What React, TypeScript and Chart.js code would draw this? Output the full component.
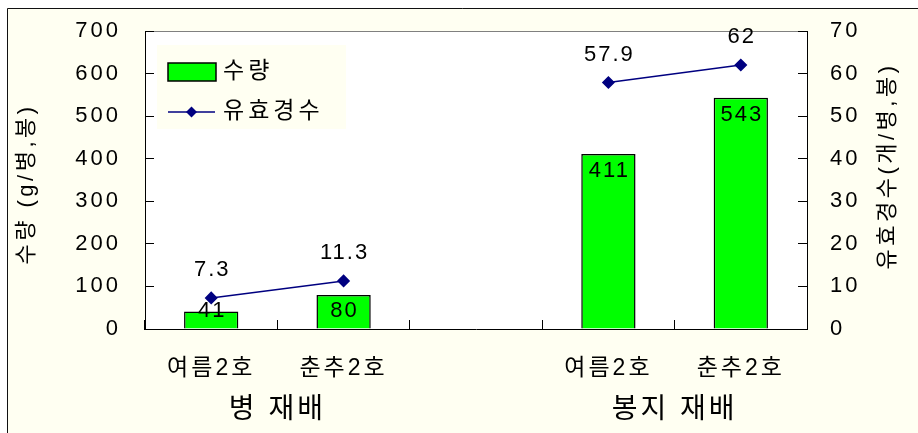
import React, { useEffect, useRef } from 'react';
import { Chart, registerables } from 'chart.js';

Chart.register(...registerables);

// ---- data ----
const categories = ['여름2호', '춘추2호', '', '여름2호', '춘추2호'];
const groupLabels = ['병 재배', '봉지 재배'];
const groupCenters = [0.5, 3.5];
const yieldValues = [41, 80, null, 411, 543];
const earValues = [7.3, 11.3, null, 57.9, 62];
const leftAxisTitle = '수량 (g/병,봉)';
const rightAxisTitle = '유효경수(개/병,봉)';
const legendLabels = ['수량', '유효경수'];

const CREAM = '#FFFFF2';
const GREEN = '#00FF00';
const NAVY = '#000080';
const FAMILY = '"Liberation Sans", "Noto Sans CJK KR", sans-serif';

const zeroPad = (s: any) => {
  s.paddingTop = 0;
  s.paddingBottom = 0;
  s.paddingLeft = 0;
  s.paddingRight = 0;
};

const decorPlugin = {
  id: 'decor',
  beforeDraw(chart: any) {
    const { ctx, width, height, chartArea: ca } = chart;
    ctx.save();
    ctx.fillStyle = '#ffffff';
    ctx.fillRect(0, 0, width, height);
    ctx.fillStyle = CREAM;
    ctx.fillRect(7, 8, width - 7, height - 8);
    ctx.strokeStyle = '#111';
    ctx.lineWidth = 1;
    ctx.beginPath();
    ctx.moveTo(7.5, height);
    ctx.lineTo(7.5, 8.5);
    ctx.lineTo(width, 8.5);
    ctx.stroke();
    ctx.fillStyle = '#ffffff';
    ctx.fillRect(ca.left, ca.top, ca.right - ca.left, ca.bottom - ca.top);
    ctx.strokeStyle = '#808080';
    ctx.beginPath();
    ctx.moveTo(ca.left, ca.top + 0.5);
    ctx.lineTo(ca.right, ca.top + 0.5);
    ctx.stroke();
    ctx.restore();
    ctx.letterSpacing = '3px';
  },
  afterDatasetsDraw(chart: any) {
    const { ctx } = chart;
    ctx.save();
    ctx.letterSpacing = '2px';
    ctx.font = `22px ${FAMILY}`;
    ctx.fillStyle = '#000';
    ctx.textAlign = 'center';
    ctx.textBaseline = 'middle';
    chart.data.datasets.forEach((ds: any, di: number) => {
      const meta = chart.getDatasetMeta(di);
      meta.data.forEach((el: any, i: number) => {
        const v = ds.data[i];
        if (v === null || v === undefined) return;
        let y: number;
        if (ds.type === 'line') {
          y = el.y - 28;
        } else {
          y = Math.min(el.y + 17, el.base - 18);
        }
        ctx.fillText(String(v), el.x + 1, y);
      });
    });
    ctx.restore();
  },
  afterDraw(chart: any) {
    const { ctx, chartArea: ca } = chart;
    ctx.save();
    ctx.fillStyle = '#000';
    ctx.font = `22px ${FAMILY}`;
    ctx.letterSpacing = '3.5px';
    ctx.textAlign = 'center';
    ctx.textBaseline = 'middle';
    // left axis title
    ctx.save();
    ctx.translate(27, (ca.top + ca.bottom) / 2 + 4);
    ctx.rotate(-Math.PI / 2);
    ctx.fillText(leftAxisTitle, 0, 0);
    ctx.restore();
    // right axis title
    ctx.save();
    ctx.translate(888, (ca.top + ca.bottom) / 2 - 14);
    ctx.rotate(-Math.PI / 2);
    ctx.fillText(rightAxisTitle, 0, 0);
    ctx.restore();

    // legend
    const lx = ca.left + 12;
    const ly = ca.top + 14;
    ctx.fillStyle = CREAM;
    ctx.fillRect(lx, ly, 189, 84);
    ctx.fillStyle = GREEN;
    ctx.fillRect(lx + 11, ly + 18, 48, 18);
    ctx.strokeStyle = '#000';
    ctx.lineWidth = 1.5;
    ctx.strokeRect(lx + 11, ly + 18, 48, 18);
    ctx.strokeStyle = NAVY;
    ctx.lineWidth = 1.5;
    ctx.beginPath();
    ctx.moveTo(lx + 11, ly + 67);
    ctx.lineTo(lx + 58, ly + 67);
    ctx.stroke();
    ctx.fillStyle = NAVY;
    const dx = lx + 34.5, dy = ly + 67, r = 5.5;
    ctx.beginPath();
    ctx.moveTo(dx, dy - r);
    ctx.lineTo(dx + r, dy);
    ctx.lineTo(dx, dy + r);
    ctx.lineTo(dx - r, dy);
    ctx.closePath();
    ctx.fill();
    ctx.fillStyle = '#000';
    ctx.textAlign = 'left';
    ctx.letterSpacing = '4px';
    ctx.font = `23px ${FAMILY}`;
    ctx.fillText(legendLabels[0], lx + 66, ly + 27);
    ctx.fillText(legendLabels[1], lx + 66, ly + 67);
    ctx.restore();
  },
};

export default function App() {
  const ref = useRef<HTMLCanvasElement | null>(null);
  useEffect(() => {
    document.body.style.margin = '0';
    document.body.style.overflow = 'hidden';
    const canvas = ref.current;
    if (!canvas) return;
    Chart.defaults.font.family = FAMILY;
    Chart.defaults.color = '#000';
    const chart = new Chart(canvas, {
      type: 'bar',
      data: {
        labels: categories,
        datasets: [
          {
            type: 'line',
            label: legendLabels[1],
            data: earValues,
            yAxisID: 'y1',
            xAxisID: 'x',
            borderColor: NAVY,
            backgroundColor: NAVY,
            borderWidth: 1.5,
            pointStyle: 'rectRot',
            pointRadius: 5.5,
            pointBackgroundColor: NAVY,
            pointBorderColor: NAVY,
            spanGaps: false,
            order: 0,
            clip: false,
          } as any,
          {
            type: 'bar',
            label: legendLabels[0],
            data: yieldValues,
            yAxisID: 'y',
            xAxisID: 'x',
            backgroundColor: GREEN,
            borderColor: '#000',
            borderWidth: 1.5,
            categoryPercentage: 1,
            barPercentage: 0.41,
            order: 1,
          } as any,
        ],
      },
      options: {
        responsive: false,
        animation: false,
        devicePixelRatio: 1,
        layout: { padding: { top: 31, left: 0, right: 0, bottom: 0 } },
        plugins: {
          legend: { display: false },
          tooltip: { enabled: false },
        },
        scales: {
          x: {
            type: 'category',
            position: 'bottom',
            weight: 0,
            offset: true,
            grid: {
              display: true,
              offset: true,
              drawOnChartArea: false,
              drawTicks: true,
              tickLength: -9,
              color: '#000',
              lineWidth: 1,
            },
            border: { display: true, color: '#000', width: 1 },
            ticks: {
              autoSkip: false,
              maxRotation: 0,
              minRotation: 0,
              padding: 35,
              font: { size: 23 },
              color: '#000',
            },
            afterFit: (s: any) => {
              s.height = 52;
              zeroPad(s);
            },
          },
          x2: {
            type: 'linear',
            position: 'bottom',
            weight: 1,
            offset: false,
            min: -0.5,
            max: 4.5,
            grid: { display: false, drawTicks: false, offset: false },
            border: { display: false },
            afterBuildTicks: (axis: any) => {
              axis.ticks = groupCenters.map((v) => ({ value: v }));
            },
            ticks: {
              autoSkip: false,
              maxRotation: 0,
              minRotation: 0,
              padding: 12,
              font: { size: 28 },
              color: '#000',
              callback: (value: any) => {
                const i = groupCenters.indexOf(Number(value));
                return i >= 0 ? groupLabels[i] : '';
              },
            },
            afterFit: (s: any) => {
              s.height = 52;
              zeroPad(s);
            },
          },
          y: {
            type: 'linear',
            position: 'left',
            min: 0,
            max: 700,
            grid: {
              display: true,
              drawOnChartArea: false,
              drawTicks: true,
              tickLength: -9,
              color: '#000',
            },
            border: { display: true, color: '#000', width: 1 },
            ticks: {
              stepSize: 100,
              padding: 33,
              font: { size: 22 },
              color: '#000',
            },
            afterFit: (s: any) => {
              s.width = 145;
              zeroPad(s);
            },
          },
          y1: {
            type: 'linear',
            position: 'right',
            min: 0,
            max: 70,
            grid: {
              display: true,
              drawOnChartArea: false,
              drawTicks: true,
              tickLength: -9,
              color: '#000',
            },
            border: { display: true, color: '#000', width: 1 },
            ticks: {
              stepSize: 10,
              padding: 32,
              font: { size: 22 },
              color: '#000',
            },
            afterFit: (s: any) => {
              s.width = 111;
              zeroPad(s);
            },
          },
        },
      } as any,
      plugins: [decorPlugin],
    });
    return () => chart.destroy();
  }, []);
  return (
    <div style={{ width: 918, height: 433 }}>
      <canvas ref={ref} width={918} height={433} style={{ display: 'block', width: 918, height: 433 }} />
    </div>
  );
}
